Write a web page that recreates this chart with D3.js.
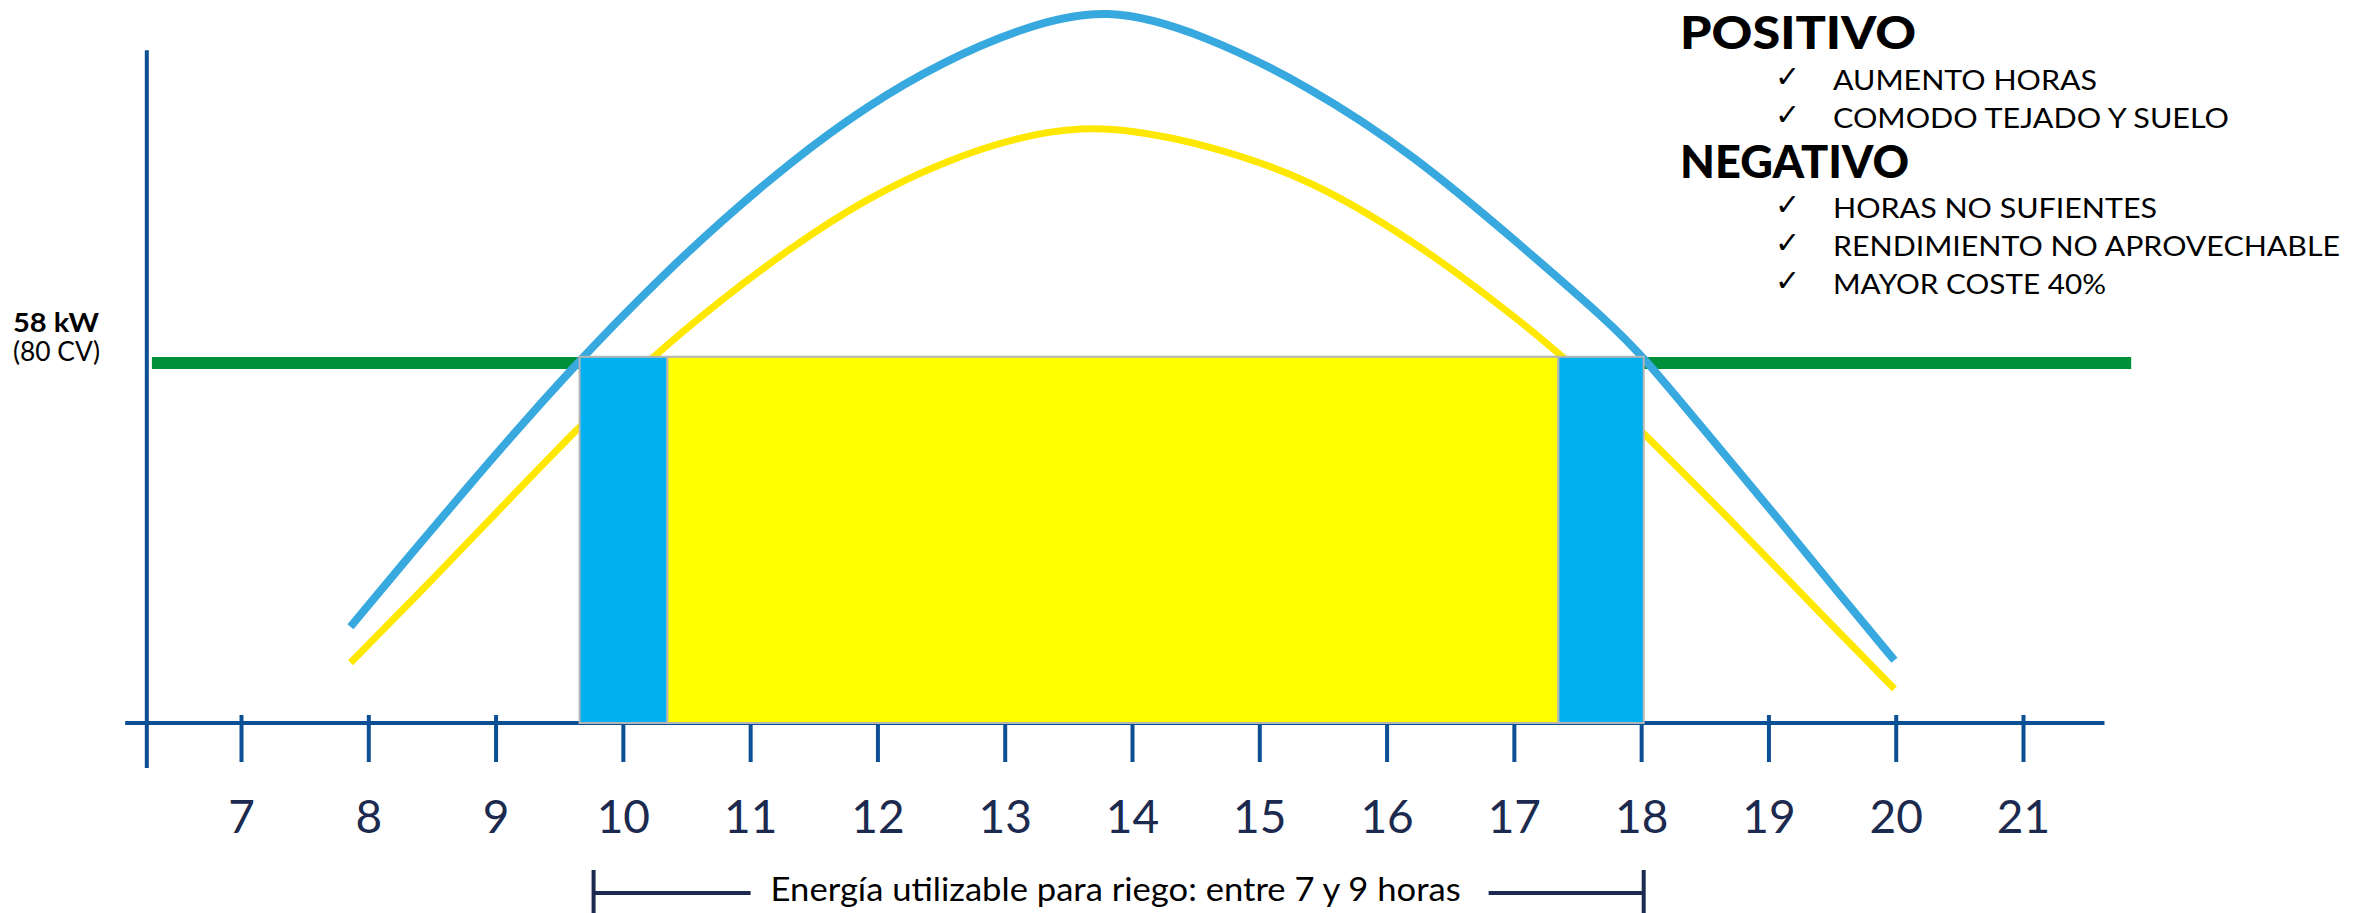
<!DOCTYPE html>
<html>
<head>
<meta charset="utf-8">
<script src="https://cdn.jsdelivr.net/npm/d3@7"></script>
<style>
  body { margin: 0; background: #fff; }
  text { font-family: Lato, "Open Sans", sans-serif; }
</style>
</head>
<body>
<div id="chart"></div>
<script>
// Hours on the x axis
const hours = [7, 8, 9, 10, 11, 12, 13, 14, 15, 16, 17, 18, 19, 20, 21];

// Blue curve, hour / kW
const blueHours = [7.86, 8.38, 8.78, 9.18, 9.58, 9.95, 10.35, 10.76, 11.31, 11.92, 12.52, 13.13, 13.8, 14.57, 15.39, 16.21, 17.03, 17.73, 18.02, 18.56, 19.09, 19.58, 19.99];
const blueKW    = [15.5, 28.3, 38.0, 47.5, 56.6, 64.6, 72.8, 80.6, 90.3, 99.5, 106.6, 112.0, 115.6, 110.9, 102.6, 91.6, 77.4, 64.9, 59.0, 45.6, 32.6, 20.2, 10.1];

// Yellow curve, hour / kW
const yellowHours = [7.86, 8.5, 9.1, 9.66, 10.23, 10.76, 11.31, 11.92, 12.52, 13.13, 13.61, 14.0, 14.57, 15.39, 16.21, 16.83, 17.4, 18.02, 18.68, 19.42, 19.99];
const yellowKW    = [9.7, 23.0, 35.9, 47.8, 59.0, 68.0, 76.5, 84.6, 90.5, 94.6, 96.0, 95.5, 93.3, 87.8, 77.7, 68.3, 59.0, 46.7, 33.2, 17.4, 5.5];

// Pump power line
const limitKW = 58;
const limitFrom = 6.30, limitTo = 21.85;

// Usable energy block
const blockStart = [9.66, 10.35, 17.35];
const blockEnd   = [10.35, 17.35, 18.02];
const blockColor = ["#00b0f0", "#ffff00", "#00b0f0"];
const blockTopKW = 59;

// Bracket under the axis
const bracketFrom = 9.77, bracketTo = 18.02;
const bracketText = "Energía utilizable para riego: entre 7 y 9 horas";

// Side notes
const positivo = ["AUMENTO HORAS", "COMODO TEJADO Y SUELO"];
const positivoW = [264, 396];
const negativo = ["HORAS NO SUFIENTES", "RENDIMIENTO NO APROVECHABLE", "MAYOR COSTE 40%"];
const negativoW = [324, 507, 273];

const W = 2369, H = 913;
const axisColor = "#0b4f94";
const navy = "#1b2a4e";

const svg = d3.select("#chart")
    .append("svg")
    .attr("width", W)
    .attr("height", H);

const x = d3.scaleLinear().domain([7, 21]).range([241, 2023]);
const y = d3.scaleLinear().domain([0, 58]).range([723, 363]);

// Y axis line
svg.append("line")
    .attr("x1", x(6.26)).attr("x2", x(6.26))
    .attr("y1", y(108.4)).attr("y2", y(-7.25))
    .attr("stroke", axisColor)
    .attr("stroke-width", 4);

// X axis line
svg.append("line")
    .attr("x1", x(6.09)).attr("x2", x(21.64))
    .attr("y1", y(0)).attr("y2", y(0))
    .attr("stroke", axisColor)
    .attr("stroke-width", 4);

// Ticks + labels
const xAxis = svg.append("g")
    .attr("transform", `translate(0, ${y(0) - 8})`)
    .call(d3.axisBottom(x).tickValues(hours).tickSize(47).tickPadding(38).tickFormat(d3.format("d")));
xAxis.select(".domain").remove();
xAxis.selectAll(".tick line")
    .attr("stroke", axisColor)
    .attr("stroke-width", 4);
xAxis.selectAll(".tick text")
    .attr("fill", navy)
    .style("font-family", "Lato, sans-serif")
    .style("font-size", "46px");

// Green limit line
svg.append("line")
    .attr("x1", x(limitFrom)).attr("x2", x(limitTo))
    .attr("y1", y(limitKW)).attr("y2", y(limitKW))
    .attr("stroke", "#00903a")
    .attr("stroke-width", 12);

// Curves
const line = d3.line()
    .x(d => x(d[0]))
    .y(d => y(d[1]))
    .curve(d3.curveBasis);

svg.append("path")
    .datum(yellowHours.map((h, i) => [h, yellowKW[i]]))
    .attr("d", line)
    .attr("fill", "none")
    .attr("stroke", "#ffe800")
    .attr("stroke-width", 7);

svg.append("path")
    .datum(blueHours.map((h, i) => [h, blueKW[i]]))
    .attr("d", line)
    .attr("fill", "none")
    .attr("stroke", "#38a9df")
    .attr("stroke-width", 8);

// Usable energy block
svg.selectAll(".block")
    .data(blockStart.map((s, i) => ({ s: s, e: blockEnd[i], c: blockColor[i] })))
    .enter()
    .append("rect")
    .attr("class", "block")
    .attr("x", d => x(d.s))
    .attr("y", y(blockTopKW))
    .attr("width", d => x(d.e) - x(d.s))
    .attr("height", y(0) - y(blockTopKW))
    .attr("fill", d => d.c)
    .attr("stroke", "#b5b5b5")
    .attr("stroke-width", 2);

// Left value label
svg.append("text")
    .attr("x", 13).attr("y", 332)
    .attr("font-size", 26).attr("font-weight", "bold")
    .attr("textLength", 86).attr("lengthAdjust", "spacingAndGlyphs")
    .text("58 kW");
svg.append("text")
    .attr("x", 13).attr("y", 361)
    .attr("font-size", 26)
    .attr("textLength", 87).attr("lengthAdjust", "spacingAndGlyphs")
    .text("(80 CV)");

// Bracket
const bY = 893;
const bt = svg.append("text")
    .attr("x", (x(bracketFrom) + x(bracketTo)) / 2 - 3)
    .attr("y", 901)
    .attr("text-anchor", "middle")
    .attr("font-size", 33)
    .attr("fill", "#000")
    .attr("textLength", 690).attr("lengthAdjust", "spacingAndGlyphs")
    .text(bracketText);
const tb = bt.node().getBBox();
const bracket = svg.append("g")
    .attr("stroke", navy)
    .attr("stroke-width", 4);
bracket.append("line").attr("x1", x(bracketFrom)).attr("x2", tb.x - 20).attr("y1", bY).attr("y2", bY);
bracket.append("line").attr("x1", tb.x + tb.width + 28).attr("x2", x(bracketTo)).attr("y1", bY).attr("y2", bY);
bracket.append("line").attr("x1", x(bracketFrom)).attr("x2", x(bracketFrom)).attr("y1", 870).attr("y2", H);
bracket.append("line").attr("x1", x(bracketTo)).attr("x2", x(bracketTo)).attr("y1", 870).attr("y2", H);

// Side notes
function heading(txt, yy, w) {
    svg.append("text")
        .attr("x", 1680).attr("y", yy)
        .attr("font-size", 45).attr("font-weight", 900)
        .attr("textLength", w).attr("lengthAdjust", "spacingAndGlyphs")
        .text(txt);
}
function items(list, widths, y0) {
    list.forEach((t, i) => {
        const yy = y0 + i * 38;
        svg.append("text")
            .attr("x", 1775).attr("y", yy - 3)
            .style("font-family", "'DejaVu Sans', sans-serif")
            .attr("font-size", 30)
            .text("✓");
        svg.append("text")
            .attr("x", 1833).attr("y", yy)
            .attr("font-size", 27)
            .attr("textLength", widths[i]).attr("lengthAdjust", "spacingAndGlyphs")
            .text(t);
    });
}
heading("POSITIVO", 49, 236);
items(positivo, positivoW, 90);
heading("NEGATIVO", 178, 229);
items(negativo, negativoW, 218);
</script>
</body>
</html>
